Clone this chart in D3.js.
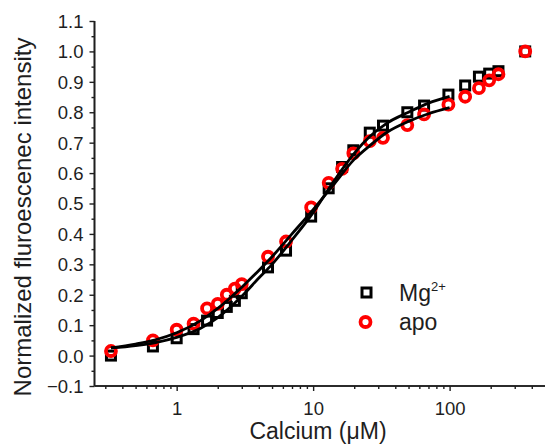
<!DOCTYPE html>
<html><head><meta charset="utf-8">
<script src="https://cdn.jsdelivr.net/npm/d3@7"></script>
<style>
html,body{margin:0;padding:0;background:#fff;}
svg{display:block;font-family:"Liberation Sans",Arial,sans-serif;}
</style></head>
<body><svg id="c" width="545" height="444"></svg>
<script>
// ---- data ----
const calcium = [0.33, 0.67, 1.0, 1.33, 1.67, 2.0, 2.33, 2.67, 3.0, 4.67, 6.33, 9.67, 13, 16.3, 19.7, 26, 32.5, 49, 65, 98, 130, 164, 195, 228, 358];
const mgValues = [0.0, 0.03, 0.057, 0.087, 0.115, 0.14, 0.16, 0.18, 0.205, 0.29, 0.345, 0.457, 0.55, 0.62, 0.675, 0.733, 0.756, 0.80, 0.822, 0.858, 0.888, 0.917, 0.927, 0.935, 1.0];
const apoValues = [0.015, 0.05, 0.085, 0.105, 0.155, 0.17, 0.2, 0.22, 0.235, 0.325, 0.375, 0.487, 0.568, 0.614, 0.665, 0.705, 0.716, 0.758, 0.793, 0.825, 0.851, 0.879, 0.905, 0.925, 1.0];
// fit curves
const fitX = [0.33, 0.5, 0.7, 1.0, 1.5, 2.0, 3.0, 4.0, 5.0, 7.0, 10, 14, 20, 26, 35, 50, 70, 100];
const mgFit = [0.025, 0.033, 0.043, 0.06, 0.09, 0.125, 0.195, 0.255, 0.30, 0.38, 0.47, 0.57, 0.665, 0.72, 0.765, 0.80, 0.83, 0.852];
const apoFit = [0.025, 0.038, 0.052, 0.075, 0.115, 0.155, 0.225, 0.28, 0.325, 0.40, 0.48, 0.56, 0.645, 0.69, 0.735, 0.77, 0.795, 0.815];
const xMajorTicks = [1, 10, 100];
const xMinorTicks = [0.3,0.4,0.5,0.6,0.7,0.8,0.9,2,3,4,5,6,7,8,9,20,30,40,50,60,70,80,90,200,300,400];
const yMajorTicks = [-0.1,0.0,0.1,0.2,0.3,0.4,0.5,0.6,0.7,0.8,0.9,1.0,1.1];
const yMinorTicks = [-0.05,0.05,0.15,0.25,0.35,0.45,0.55,0.65,0.75,0.85,0.95,1.05];
const xTitle = "Calcium (\u03BCM)";
const yTitle = "Normalized fluroescenec intensity";
const legendLabels = ["Mg", "apo"];

// ---- layout ----
const svg = d3.select("#c");
const L = 94.5, R = 545, T = 21, B = 386;
const x = d3.scaleLog().domain([0.25, 500]).range([L, R]);
const y = d3.scaleLinear().domain([-0.1, 1.1]).range([B, T]);
const ink = "#1e1e1e";

// axes
const xAxisMajor = d3.axisBottom(x).tickValues(xMajorTicks).tickSize(5).tickFormat(d3.format("d"));
const xAxisMinor = d3.axisBottom(x).tickValues(xMinorTicks).tickSize(3).tickFormat("");
const yAxisMajor = d3.axisLeft(y).tickValues(yMajorTicks).tickSize(5).tickFormat(d3.format(".1f"));
const yAxisMinor = d3.axisLeft(y).tickValues(yMinorTicks).tickSize(3).tickFormat("");

function styleAxis(g){
  g.select(".domain").attr("stroke", ink).attr("stroke-width", 1.6);
  g.selectAll(".tick line").attr("stroke", ink).attr("stroke-width", 1.4);
  g.selectAll(".tick text").attr("fill", ink).style("font-size", "18.5px").style("font-family", "'Liberation Sans',Arial,sans-serif");
}
const gxm = svg.append("g").attr("transform", `translate(0,${B})`).call(xAxisMinor); styleAxis(gxm);
const gx = svg.append("g").attr("transform", `translate(0,${B})`).call(xAxisMajor); styleAxis(gx);
gx.selectAll(".tick text").attr("dy", null).attr("y", 28.5);
const gym = svg.append("g").attr("transform", `translate(${L},0)`).call(yAxisMinor); styleAxis(gym);
const gy = svg.append("g").attr("transform", `translate(${L},0)`).call(yAxisMajor); styleAxis(gy);
gy.selectAll(".tick text").attr("x", -11).attr("dy", "0.35em");
gym.select(".domain").attr("d", `M0,${B}V${T}`);
gxm.select(".domain").attr("d", `M${L},0H${R}`);
gy.select(".domain").attr("d", `M0,${B}V${T}`);
gx.select(".domain").attr("d", `M${L},0H${R}`);

// titles
svg.append("text").attr("x", 318).attr("y", 439).attr("text-anchor", "middle")
  .attr("fill", ink).style("font-size", "23px").text(xTitle);
svg.append("text").attr("transform", "translate(31,217) rotate(-90)").attr("text-anchor", "middle")
  .attr("fill", ink).style("font-size", "24px").text(yTitle);

// markers
const mg = calcium.map((c,i)=>({c, v: mgValues[i]}));
const apo = calcium.map((c,i)=>({c, v: apoValues[i]}));
const sq = 9;
svg.append("g").selectAll("rect").data(mg).join("rect")
  .attr("x", d=>x(d.c)-sq/2).attr("y", d=>y(d.v)-sq/2).attr("width", sq).attr("height", sq)
  .attr("fill", "none").attr("stroke", "#000").attr("stroke-width", 3);
svg.append("g").selectAll("circle").data(apo).join("circle")
  .attr("cx", d=>x(d.c)).attr("cy", d=>y(d.v)).attr("r", 5)
  .attr("fill", "none").attr("stroke", "#ff0000").attr("stroke-width", 3.8);

// fit lines
const line = d3.line().x(d=>x(d[0])).y(d=>y(d[1])).curve(d3.curveMonotoneX);
svg.append("path").datum(fitX.map((c,i)=>[c, mgFit[i]])).attr("d", line)
  .attr("fill","none").attr("stroke","#000").attr("stroke-width",2.8);
svg.append("path").datum(fitX.map((c,i)=>[c, apoFit[i]])).attr("d", line)
  .attr("fill","none").attr("stroke","#000").attr("stroke-width",2.8);

// legend
const lg = svg.append("g");
lg.append("rect").attr("x", 366.5-sq/2).attr("y", 292.5-sq/2).attr("width", sq).attr("height", sq)
  .attr("fill","none").attr("stroke","#000").attr("stroke-width",3);
lg.append("circle").attr("cx", 365.5).attr("cy", 322).attr("r", 5)
  .attr("fill","none").attr("stroke","#ff0000").attr("stroke-width",3.8);
const t1 = lg.append("text").attr("x", 399).attr("y", 300.5).attr("fill", ink).style("font-size","23px");
t1.append("tspan").text(legendLabels[0]);
t1.append("tspan").attr("dy", -10).style("font-size","13px").text("2+");
lg.append("text").attr("x", 399).attr("y", 330).attr("fill", ink).style("font-size","23px").text(legendLabels[1]);
</script></body></html>
